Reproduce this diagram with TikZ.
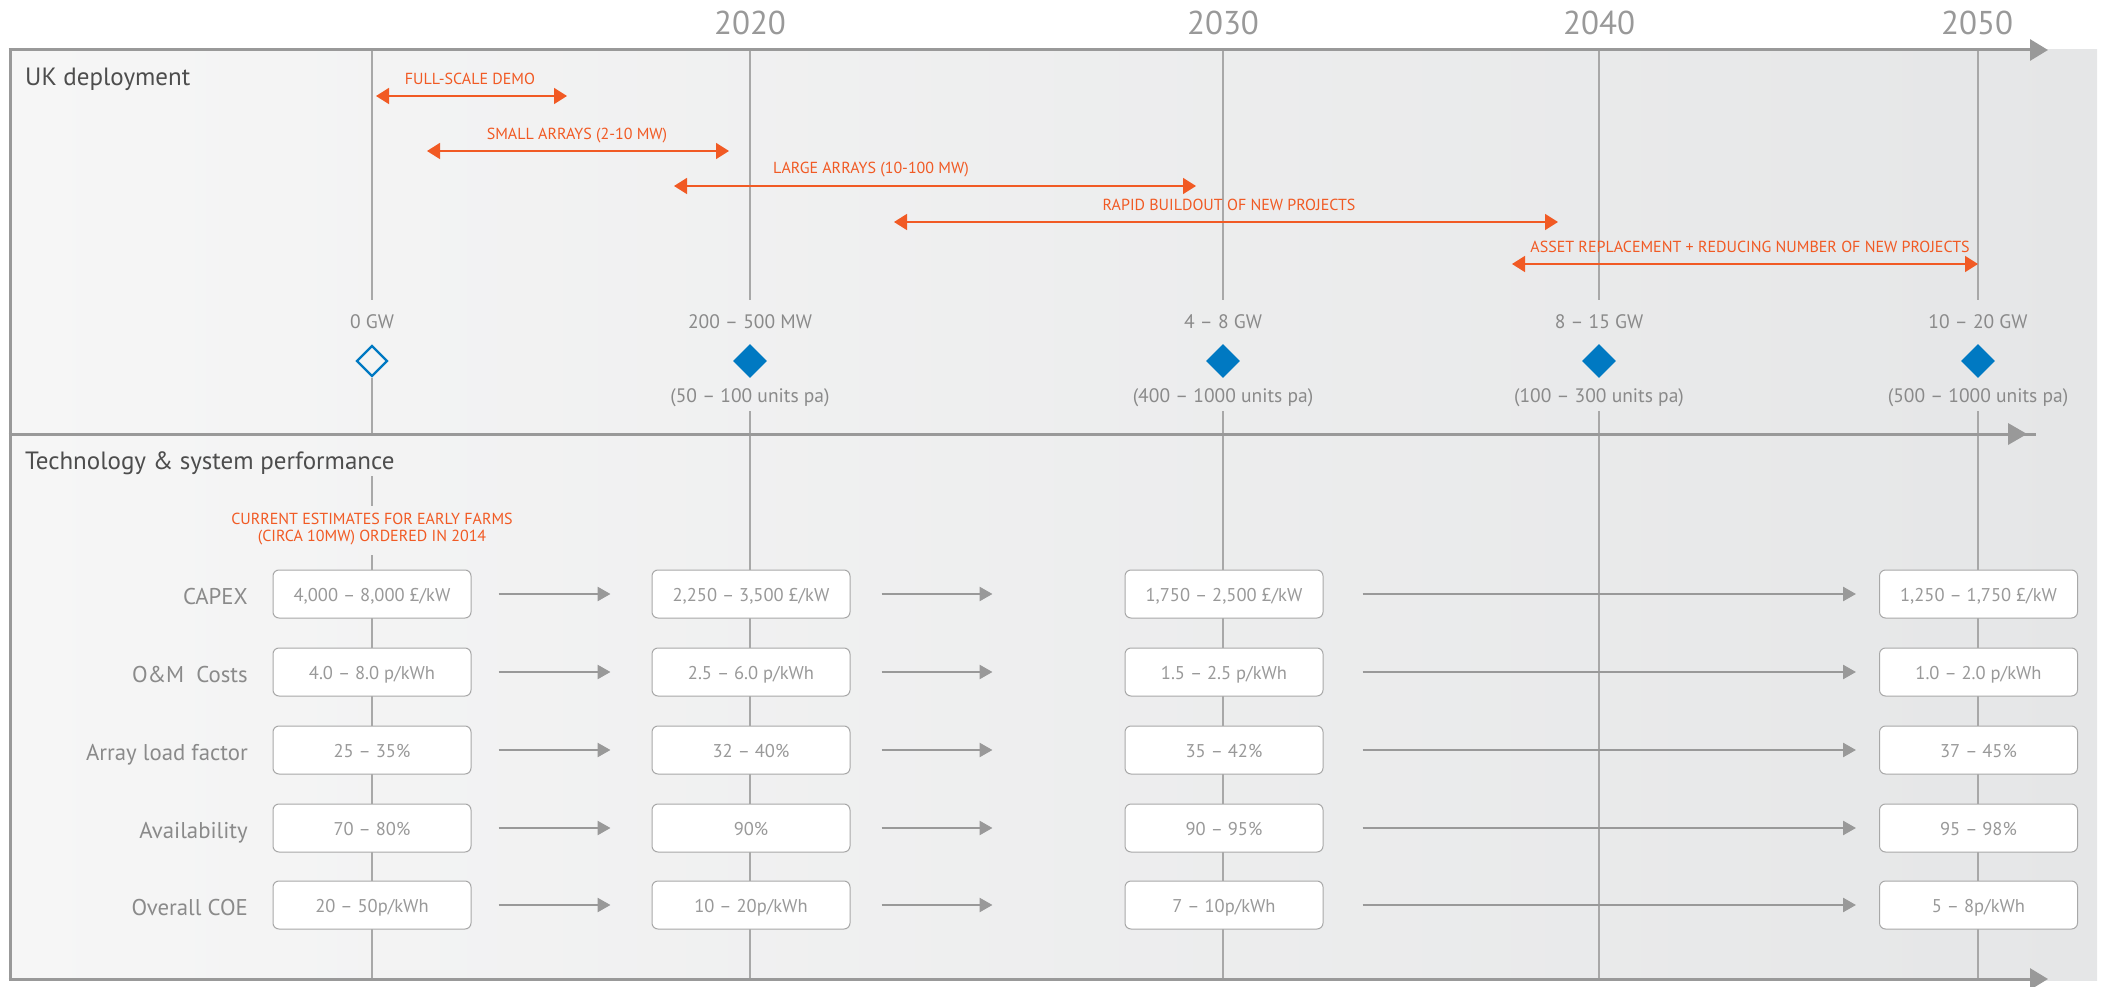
\documentclass[tikz,border=0pt]{standalone}
\usepackage{fontspec}
\setmainfont{PT Sans}
\usetikzlibrary{shapes,arrows.meta}
\definecolor{rulegray}{HTML}{999999}
\definecolor{gridgray}{HTML}{A8A8A8}
\definecolor{orng}{HTML}{F15A24}
\definecolor{blu}{HTML}{0079C2}
\definecolor{titlegray}{HTML}{4D4D4D}
\definecolor{txtgray}{HTML}{8A8A8A}
\definecolor{bgleft}{HTML}{F6F6F6}
\definecolor{bgright}{HTML}{E5E6E7}

\begin{document}
\begin{tikzpicture}[x=1pt,y=-1pt]
	\tikzset{timeaxis/.style={rulegray,line width=3pt,-{Triangle[length=18pt,width=21pt]}},
		gridline/.style={gridgray,line width=1.3pt},
		span/.style={orng,line width=1.6pt,{Triangle[length=13pt,width=16pt]}-{Triangle[length=13pt,width=16pt]}},
		spantext/.style={orng,font=\fontsize{16}{17}\selectfont,anchor=base,inner sep=0},
		year/.style={rulegray,font=\fontsize{33}{36}\selectfont,anchor=base,inner sep=0},
		sectitle/.style={titlegray,font=\fontsize{25}{28}\selectfont,anchor=base west,inner sep=0},
		gwtext/.style={txtgray,font=\fontsize{19.5}{21}\selectfont,anchor=base,inner sep=0},
		gem/.style={diamond,fill=blu,minimum width=34pt,minimum height=34pt,inner sep=0,aspect=1},
		rowname/.style={txtgray,font=\fontsize{22.8}{24}\selectfont,anchor=base east,inner sep=0},
		valbox/.style={draw=gridgray,fill=white,rounded corners=6pt,line width=1pt,minimum width=198pt,minimum height=48pt,inner sep=0,text=rulegray,font=\fontsize{18.5}{20}\selectfont,text height=19pt,text depth=4pt},
		flow/.style={rulegray,line width=2.5pt,-{Triangle[length=13pt,width=14pt]}}}
	\useasboundingbox (0,0) rectangle (2105,987);
	\shade[left color=bgleft,right color=bgright] (10,50) rectangle (2097,980);
	
	\node[year](y2020) at (750,35) {2020};
	\node[year](y2030) at (1223,35) {2030};
	\node[year](y2040) at (1599,35) {2040};
	\node[year](y2050) at (1977,35) {2050};
	
	\foreach \x in {750,1223,1599,1978} {
		\draw[gridline] (\x,50) -- (\x,300);
		\draw[gridline] (\x,411) -- (\x,979);
	}
	\draw[gridline] (372,50) -- (372,300);
	\draw[gridline] (372,378) -- (372,434);
	\draw[gridline] (372,476) -- (372,506);
	\draw[gridline] (372,555) -- (372,979);
	
	\draw[rulegray,line width=3pt] (10,48.5) -- (10,980.5);
	\draw[timeaxis] (8.5,50) -- (2048,50);
	\draw[rulegray,line width=3pt] (8.5,434) -- (2036,434);
	\fill[rulegray] (2008,423) -- (2027,434) -- (2008,445) -- cycle;
	\draw[timeaxis] (8.5,979) -- (2048,979);
	
	\node[sectitle](uk) at (25,86) {UK deployment};
	\node[sectitle](tech) at (25,469) {Technology \& system performance};
	
	\node[spantext](demo) at (470,85) {FULL-SCALE DEMO};
	\draw[span] (376,96) -- (567,96);
	\node[spantext](small) at (577,140) {SMALL ARRAYS (2-10 MW)};
	\draw[span] (427,151) -- (729,151);
	\node[spantext](large) at (871,174) {LARGE ARRAYS (10-100 MW)};
	\draw[span] (674,186) -- (1196,186);
	\node[spantext](rapid) at (1229,211) {RAPID BUILDOUT OF NEW PROJECTS};
	\draw[span] (894,222) -- (1558,222);
	\node[spantext](asset) at (1750,253) {ASSET REPLACEMENT + REDUCING NUMBER OF NEW PROJECTS};
	\draw[span] (1512,264) -- (1978,264);
	
	\node[gem,fill=none,draw=blu,line width=2.2pt,minimum width=31pt,minimum height=31pt](d2014) at (372,361) {};
	\node[gwtext](g2014) at (372,328) {0 GW};
	\foreach \x/\n/\gw/\units in {750/2020/{200 – 500 MW}/{(50 – 100 units pa)},
		1223/2030/{4 – 8 GW}/{(400 – 1000 units pa)},
		1599/2040/{8 – 15 GW}/{(100 – 300 units pa)},
		1978/2050/{10 – 20 GW}/{(500 – 1000 units pa)}} {
		\node[gem](d\n) at (\x,361) {};
		\node[gwtext](g\n) at (\x,328) {\gw};
		\node[gwtext](u\n) at (\x,402) {\units};
	}
	
	\node[spantext,anchor=center,align=center](early) at (372,529) {CURRENT ESTIMATES FOR EARLY FARMS\\(CIRCA 10MW) ORDERED IN 2014};
	
	\foreach \r/\y/\lab/\a/\b/\c/\d in {
		1/594/CAPEX/{4,000 – 8,000 £/kW}/{2,250 – 3,500 £/kW}/{1,750 – 2,500 £/kW}/{1,250 – 1,750 £/kW},
		2/672/{O\&M\ \ Costs}/{4.0 – 8.0 p/kWh}/{2.5 – 6.0 p/kWh}/{1.5 – 2.5 p/kWh}/{1.0 – 2.0 p/kWh},
		3/750/{Array load factor}/{25 – 35\%}/{32 – 40\%}/{35 – 42\%}/{37 – 45\%},
		4/828/Availability/{70 – 80\%}/{90\%}/{90 – 95\%}/{95 – 98\%},
		5/905/{Overall COE}/{20 – 50p/kWh}/{10 – 20p/kWh}/{7 – 10p/kWh}/{5 – 8p/kWh}} {
		\node[rowname](n\r) at (248,\y+10) {\lab};
		\node[valbox](c\r-1) at (372,\y) {\a};
		\node[valbox](c\r-2) at (751,\y) {\b};
		\node[valbox](c\r-3) at (1224,\y) {\c};
		\node[valbox](c\r-4) at (1978.5,\y) {\d};
		\draw[flow] ([xshift=27pt]c\r-1.east) -- ([xshift=-41pt]c\r-2.west);
		\draw[flow] ([xshift=31pt]c\r-2.east) -- ([xshift=-132pt]c\r-3.west);
		\draw[flow] ([xshift=39pt]c\r-3.east) -- ([xshift=-23pt]c\r-4.west);
	}
\end{tikzpicture}
\end{document}
